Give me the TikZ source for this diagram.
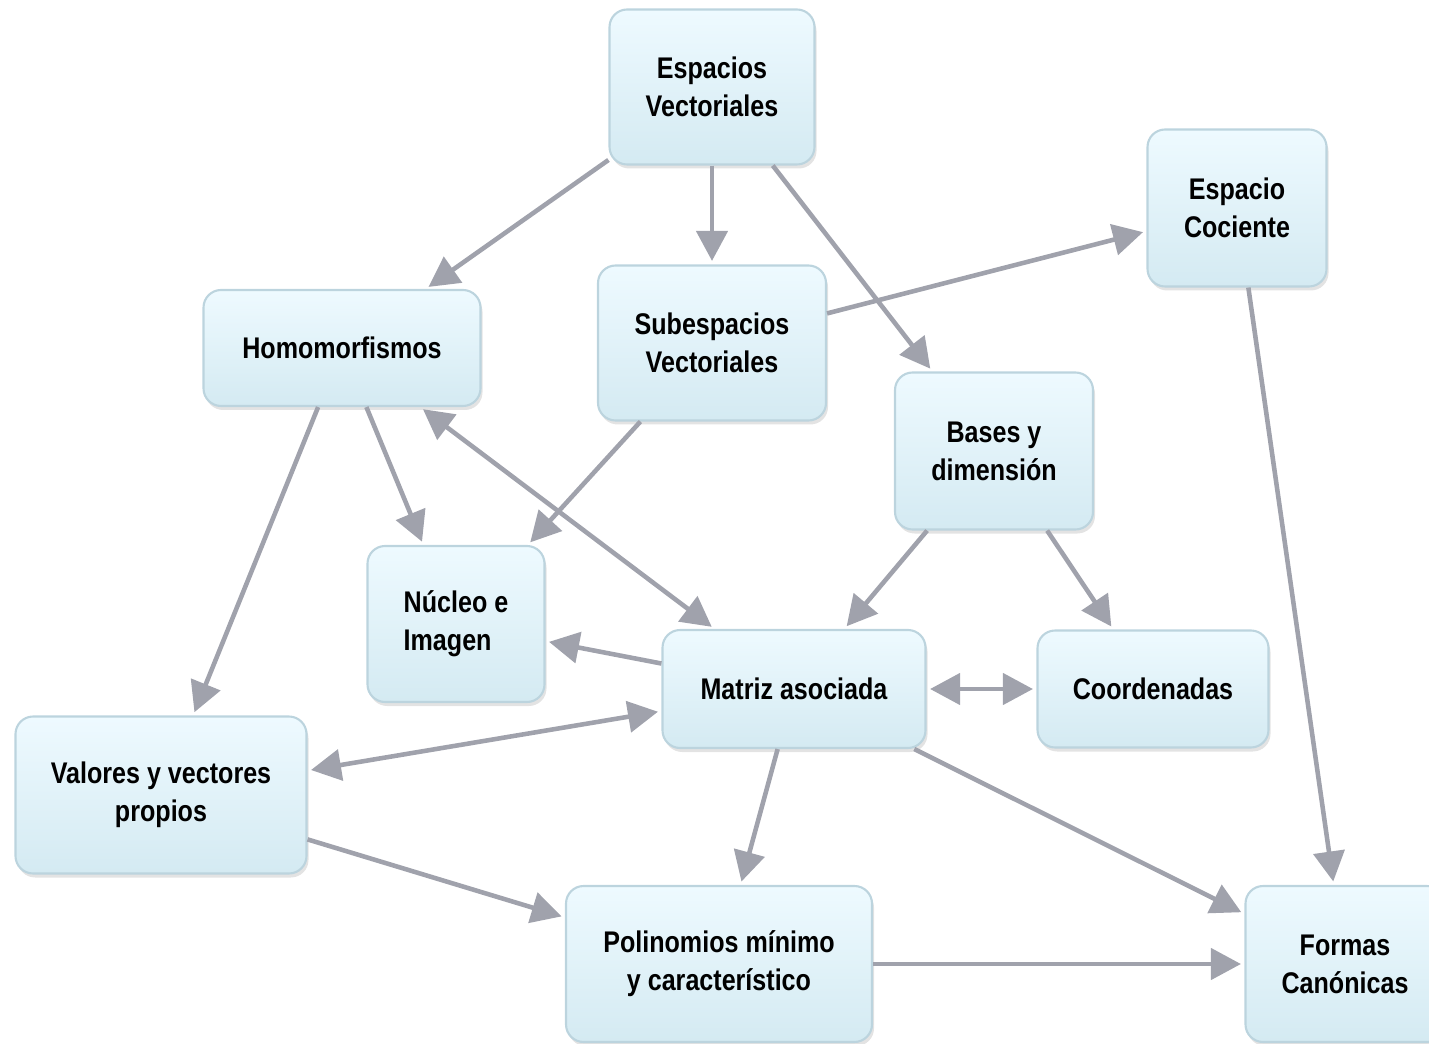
\documentclass[tikz,border=0pt]{standalone}
\usepackage{fontspec}
\setmainfont[FakeStretch=0.84]{Liberation Sans}
\usepackage{tikz}
\usetikzlibrary{arrows.meta, shadows}
\definecolor{boxtop}{RGB}{238,250,255}
\definecolor{boxbottom}{RGB}{212,234,242}
\definecolor{boxborder}{RGB}{188,212,222}
\definecolor{linkcolor}{RGB}{160,162,172}

\begin{document}
\begin{tikzpicture}[
    concept/.style={draw=boxborder, line width=1.2pt, top color=boxtop, bottom color=boxbottom, rounded corners=10pt, minimum height=3.1cm, align=center, font=\fontsize{17}{21.6}\selectfont\bfseries, drop shadow={opacity=0.22, shadow xshift=0.04cm, shadow yshift=-0.08cm}},
    link/.style={-{Triangle[length=0.6cm, width=0.62cm]}, line width=2.6pt, linkcolor, shorten >=2pt},
    dlink/.style={{Triangle[length=0.6cm, width=0.62cm]}-{Triangle[length=0.6cm, width=0.62cm]}, line width=2.6pt, linkcolor, shorten >=2pt, shorten <=2pt}
]
    \useasboundingbox (0,0) rectangle (28.58,-20.88);

    % Top row
    \node[concept, minimum width=4.1cm] (espacios) at (14.24,-1.74) {Espacios\\Vectoriales};
    \node[concept, minimum width=3.58cm, minimum height=3.14cm] (cociente) at (24.74,-4.16) {Espacio\\Cociente};

    % Second row
    \node[concept, minimum width=5.54cm, minimum height=2.32cm] (homo) at (6.84,-6.96) {Homomorfismos};
    \node[concept, minimum width=4.56cm] (subesp) at (14.24,-6.86) {Subespacios\\Vectoriales};
    \node[concept, minimum width=3.96cm, minimum height=3.14cm] (bases) at (19.88,-9.02) {Bases y\\dimensión};

    % Middle row
    \node[concept, minimum width=3.54cm, minimum height=3.12cm, align=left] (nucleo) at (9.12,-12.48) {Núcleo e\\Imagen};
    \node[concept, minimum width=5.26cm, minimum height=2.36cm] (matriz) at (15.88,-13.78) {Matriz asociada};
    \node[concept, minimum width=4.62cm, minimum height=2.34cm] (coord) at (23.06,-13.78) {Coordenadas};
    \node[concept, minimum width=5.82cm, minimum height=3.14cm] (valores) at (3.22,-15.9) {Valores y vectores\\propios};

    % Bottom row
    \node[concept, minimum width=6.12cm, minimum height=3.12cm] (poli) at (14.38,-19.28) {Polinomios mínimo\\y característico};
    \node[concept, minimum width=3.98cm, minimum height=3.12cm] (formas) at (26.9,-19.28) {Formas\\Canónicas};

    % Links from the top
    \draw[link] (espacios) -- (homo);
    \draw[link] (espacios) -- (subesp);
    \draw[link] (espacios) -- (bases);
    \draw[link] (subesp) -- (cociente);
    \draw[link] (cociente) -- (formas);

    % Links to Nucleo e Imagen
    \draw[link] (homo) -- (nucleo);
    \draw[link] (subesp) -- (nucleo);
    \draw[link] (matriz) -- (nucleo);

    % Links around Matriz asociada
    \draw[dlink] (homo) -- (matriz);
    \draw[link] (homo) -- (valores);
    \draw[link] (bases) -- (matriz);
    \draw[link] (bases) -- (coord);
    \draw[dlink] (matriz) -- (coord);
    \draw[dlink] (matriz) -- (valores);

    % Links to the bottom
    \draw[link] (matriz) -- (poli);
    \draw[link] (matriz) -- (formas);
    \draw[link] (valores) -- (poli);
    \draw[link] (poli) -- (formas);

\end{tikzpicture}
\end{document}
